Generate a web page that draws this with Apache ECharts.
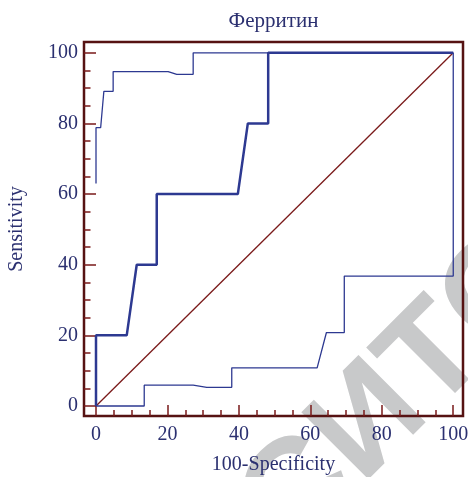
<!DOCTYPE html>
<html><head><meta charset="utf-8">
<script src="https://cdn.jsdelivr.net/npm/echarts@6/dist/echarts.min.js"></script>
<style>html,body{margin:0;padding:0;background:#fff}#c{width:468px;height:477px}</style>
</head><body><div id="c"></div>
<script>
const titleText = 'Ферритин';
const xName = '100-Specificity';
const yName = 'Sensitivity';
const majorTicks = [0, 20, 40, 60, 80, 100];
const minorTicks = [0, 5, 10, 15, 20, 25, 30, 35, 40, 45, 50, 55, 60, 65, 70, 75, 80, 85, 90, 95, 100];
const rocX = [0, 0, 8.6, 11.4, 17, 17, 39.7, 42.5, 48.2, 48.2, 100];
const rocY = [0, 20, 20, 40, 40, 60, 60, 80, 80, 100, 100];
const upperX = [0, 0, 1.3, 2.2, 4.8, 4.8, 20.2, 22.6, 27.2, 27.2, 100];
const upperY = [63, 78.8, 78.8, 89.1, 89.1, 94.7, 94.7, 93.9, 93.9, 100, 100];
const lowerX = [0, 13.5, 13.5, 27.2, 31, 38, 38, 61.9, 64.5, 69.5, 69.5, 100, 100];
const lowerY = [0, 0, 5.9, 5.9, 5.3, 5.3, 10.8, 10.8, 20.8, 20.8, 36.8, 36.8, 100];
const diagX = [0, 100];
const diagY = [0, 100];
const watermark = 'СИТС';

const zip = (a, b) => a.map((v, i) => [v, b[i]]);
const FONT = '"Liberation Serif", "Times New Roman", serif';
const TXT = '#2b3070';
const FRAME = '#561212';
const TICK = '#7a1a1a';
const BLUE = '#2d3991';
const XMIN = -3.36, XMAX = 102.73, YMIN = -2.83, YMAX = 103.06;

function axisBase(isX, ticks, len, labels, name) {
  const a = {
    type: 'value', min: isX ? XMIN : YMIN, max: isX ? XMAX : YMAX,
    position: isX ? 'bottom' : 'left',
    axisLine: { show: false, onZero: false },
    splitLine: { show: false },
    axisTick: { show: true, inside: true, length: len, customValues: ticks,
      lineStyle: { color: TICK, width: 1.5 } },
    axisLabel: labels ? { show: true, customValues: ticks, color: TXT, fontFamily: FONT,
      fontSize: 20, margin: isX ? 9 : 6 } : { show: false }
  };
  if (name) {
    a.name = name; a.nameLocation = 'middle';
    a.nameGap = isX ? 39 : 57;
    a.nameTextStyle = { color: TXT, fontFamily: FONT, fontSize: 20 };
  }
  return a;
}

const chart = echarts.init(document.getElementById('c'), null, { renderer: 'canvas' });
chart.setOption({
  animation: false,
  grid: { left: 84, right: 5, top: 42, bottom: 61, outerBoundsMode: 'none', containLabel: false,
    show: true, borderColor: FRAME, borderWidth: 2.5, backgroundColor: 'transparent' },
  xAxis: [axisBase(true, majorTicks, 11, true, xName), axisBase(true, minorTicks, 6, false, null)],
  yAxis: [axisBase(false, majorTicks, 12, true, yName), axisBase(false, minorTicks, 6.5, false, null)],
  series: [
    { type: 'line', data: zip(diagX, diagY), symbol: 'none', lineStyle: { color: TICK, width: 1.3 } },
    { type: 'line', data: zip(upperX, upperY), symbol: 'none', lineStyle: { color: BLUE, width: 1.3 } },
    { type: 'line', data: zip(lowerX, lowerY), symbol: 'none', lineStyle: { color: BLUE, width: 1.3 } },
    { type: 'line', data: zip(rocX, rocY), symbol: 'none', lineStyle: { color: BLUE, width: 2.5 } }
  ],
  graphic: [{
    type: 'text', x: 273.5, y: 21, z: 10,
    style: { text: titleText, font: '21px ' + FONT, fill: TXT, align: 'center', verticalAlign: 'middle' }
  }, {
    type: 'text', x: 400, y: 394, rotation: Math.PI / 4, z: -10,
    style: { text: watermark, font: 'bold 138px "Liberation Sans"', fill: '#c8c9ca',
      align: 'center', verticalAlign: 'middle' }
  }]
});
</script></body></html>
